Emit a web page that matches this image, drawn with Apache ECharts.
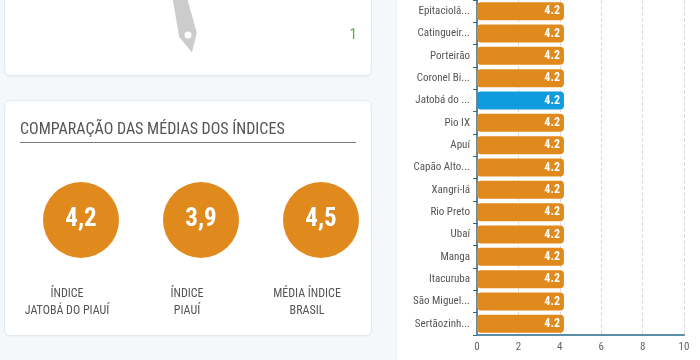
<!DOCTYPE html>
<html>
<head>
<meta charset="utf-8">
<script src="https://cdn.jsdelivr.net/npm/echarts@6/dist/echarts.min.js"></script>
<style>
  html, body { margin: 0; padding: 0; background: #f4f8fa; }
  #wrap { position: relative; width: 700px; height: 360px; overflow: hidden; background: #f4f8fa; }
  .card { position: absolute; background: #fff; border: 1px solid #e4e9ed; border-radius: 6px; box-shadow: 0 1px 2px rgba(0,0,0,0.03); }
  #c1 { left: 4px; top: -12px; width: 366px; height: 86px; }
  #c2 { left: 4px; top: 100px; width: 366px; height: 234px; }
  #panel { position: absolute; left: 396px; top: 0; width: 304px; height: 360px; background: #fff; border-left: 1px solid #eef2f4; }
  #chart { position: absolute; left: 0; top: 0; width: 700px; height: 360px; }
</style>
</head>
<body>
<div id="wrap">
  <div class="card" id="c1"></div>
  <div class="card" id="c2"></div>
  <div id="panel"></div>
  <div id="chart"></div>
</div>
<script>
// ---- data ----
var gaugeValue = 0.43;
var gaugeMaxLabel = '1';

var compTitle = 'COMPARAÇÃO DAS MÉDIAS DOS ÍNDICES';
var compLabels = ['ÍNDICE\nJATOBÁ DO PIAUÍ', 'ÍNDICE\nPIAUÍ', 'MÉDIA ÍNDICE\nBRASIL'];
var compValues = [4.2, 3.9, 4.5];

var cities = ['Epitaciolândia', 'Catingueira', 'Porteirão', 'Coronel Bicaco', 'Jatobá do Piauí', 'Pio IX', 'Apuí', 'Capão Alto', 'Xangri-lá', 'Rio Preto', 'Ubaí', 'Manga', 'Itacuruba', 'São Miguel do Tapuio', 'Sertãozinho'];
var cityValues = [4.2, 4.2, 4.2, 4.2, 4.2, 4.2, 4.2, 4.2, 4.2, 4.2, 4.2, 4.2, 4.2, 4.2, 4.2];
var highlightCity = 'Jatobá do Piauí';
var xTicks = [0, 2, 4, 6, 8, 10];

var FONT = "'Roboto Condensed', 'Liberation Sans Narrow', 'DejaVu Sans Condensed', Roboto, sans-serif";
var ORANGE = '#e0891c';
var BLUE = '#0e9cde';

var chart = echarts.init(document.getElementById('chart'), null, { renderer: 'canvas' });

var option = {
  backgroundColor: 'transparent',
  animation: false,
  textStyle: { fontFamily: FONT },
  title: {
    text: compTitle,
    left: 15, top: 117,
    textStyle: { fontFamily: FONT, fontSize: 16, fontWeight: 'normal', color: '#555' }
  },
  graphic: [{
    type: 'line',
    shape: { x1: 20, y1: 142.5, x2: 356, y2: 142.5 },
    style: { stroke: '#7a7a7a', lineWidth: 1 }
  }],
  grid: [
    { left: 21, width: 360, top: 182, height: 76, containLabel: false },
    { left: 477, right: 16, top: 0, bottom: 25, containLabel: false }
  ],
  xAxis: [
    {
      gridIndex: 0, type: 'category', data: compLabels,
      axisLine: { show: false }, axisTick: { show: false },
      axisLabel: { margin: 27, fontSize: 12, lineHeight: 17, color: '#555', padding: [0, 28, 0, 0], fontFamily: FONT }
    },
    {
      gridIndex: 1, type: 'value', min: xTicks[0], max: xTicks[xTicks.length - 1], interval: 2,
      axisLine: { show: true, lineStyle: { color: '#5b8ea6', width: 2 } },
      axisTick: { show: false },
      axisLabel: { fontSize: 11, color: '#666', margin: 7, fontFamily: FONT },
      splitLine: { show: true, lineStyle: { type: 'dashed', color: '#dcdcdc' } }
    }
  ],
  yAxis: [
    {
      gridIndex: 0, type: 'category', data: [''], show: false
    },
    {
      gridIndex: 1, type: 'category', data: cities, inverse: true,
      axisLine: { show: true, lineStyle: { color: '#3d6270', width: 1.5 } },
      axisTick: { show: true, length: 4, lineStyle: { color: '#3d6270' } },
      axisLabel: {
        fontSize: 11, color: '#555', margin: 7, fontFamily: FONT,
        formatter: function (n) { return n.length > 9 ? n.slice(0, 10) + '...' : n; }
      },
      splitLine: { show: false }
    }
  ],
  series: [
    {
      type: 'gauge',
      center: [188, 35],
      radius: 180,
      startAngle: 180, endAngle: 0,
      min: 0, max: 1, splitNumber: 1,
      axisLine: { show: false, lineStyle: { width: 0 } },
      axisTick: { show: false },
      splitLine: { show: false, length: 0, distance: 0 },
      axisLabel: {
        show: true, distance: 11, fontSize: 15, color: '#5cac3a', fontFamily: FONT,
        formatter: function (v) { return v === 1 ? gaugeMaxLabel : ''; }
      },
      pointer: {
        icon: 'path://M9,0 L18,182 L9,200 L0,182 Z',
        width: 18, length: 200, offsetCenter: [0, 18],
        itemStyle: { color: '#cccccc' }
      },
      anchor: { show: true, showAbove: true, size: 7, itemStyle: { color: '#ffffff', borderWidth: 0 } },
      title: { show: false },
      detail: { show: false },
      data: [{ value: gaugeValue }]
    },
    {
      type: 'scatter',
      xAxisIndex: 0, yAxisIndex: 0,
      symbol: 'circle', symbolSize: 76,
      itemStyle: { color: ORANGE, opacity: 1 },
      label: {
        show: true, position: 'inside', color: '#fff', fontSize: 25, fontWeight: 'bold', fontFamily: FONT,
        formatter: function (p) { return p.data[2].toFixed(1).replace('.', ','); }
      },
      data: compValues.map(function (v, i) { return [i, 0, v]; })
    },
    {
      type: 'bar',
      xAxisIndex: 1, yAxisIndex: 1,
      barWidth: 18,
      itemStyle: {
        borderRadius: 4,
        color: function (p) { return p.name === highlightCity ? BLUE : ORANGE; }
      },
      label: {
        show: true, position: 'insideRight', distance: 4, color: '#fff', fontSize: 12, fontWeight: 'bold', fontFamily: FONT,
        formatter: function (p) { return p.value.toFixed(1); }
      },
      data: cityValues
    }
  ]
};
chart.setOption(option);
</script>
</body>
</html>
